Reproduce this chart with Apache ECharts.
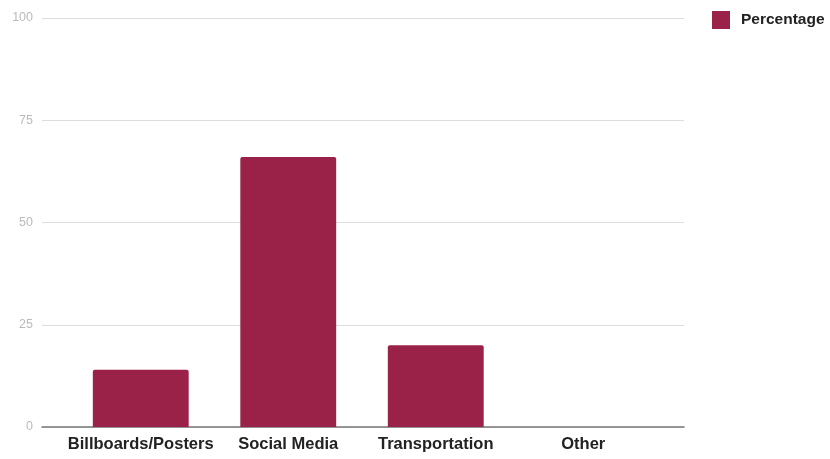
<!DOCTYPE html>
<html>
<head>
<meta charset="utf-8">
<script src="https://cdn.jsdelivr.net/npm/echarts@6/dist/echarts.min.js"></script>
<style>
  html, body { margin: 0; padding: 0; background: #fff; }
</style>
</head>
<body>
<div id="chart" style="width: 830px; height: 459px"></div>
<script>
const categories = ["Billboards/Posters", "Social Media", "Transportation", "Other"];
const percentage = [14, 66, 20, 0];
const yTicks = [0, 25, 50, 75, 100];

const chart = echarts.init(document.getElementById("chart"));

const yMin = yTicks[0];
const yMax = yTicks[yTicks.length - 1];

// grid 0: gridlines + baseline, grid 1: the bars (a bit narrower)
const option = {
  animation: false,
  legend: {
    data: ["Percentage"],
    left: 707,
    top: 6,
    itemWidth: 18,
    itemHeight: 18,
    icon: "rect",
    textStyle: {
      fontFamily: "Liberation Sans",
      fontWeight: "bold",
      fontSize: 15.5,
      color: "#222",
      padding: [0, 0, 0, 6],
    },
  },
  grid: [
    { left: 42, right: 146, top: 18, bottom: 32 },
    { left: 67, right: 173, top: 18, bottom: 32 },
  ],
  xAxis: [
    {
      type: "category",
      gridIndex: 0,
      data: categories,
      axisLine: { lineStyle: { color: "#777", width: 1.5 } },
      axisTick: { show: false },
      axisLabel: { show: false },
    },
    {
      type: "category",
      gridIndex: 1,
      data: categories,
      axisLine: { show: false },
      axisTick: { show: false },
      axisLabel: {
        interval: 0,
        fontFamily: "Liberation Sans",
        fontWeight: "bold",
        fontSize: 16.5,
        color: "#222",
        margin: 9,
      },
    },
  ],
  yAxis: [
    {
      type: "value",
      gridIndex: 0,
      min: yMin,
      max: yMax,
      interval: 25,
      axisLine: { show: false },
      axisTick: { show: false },
      axisLabel: {
        fontFamily: "Liberation Sans",
        fontSize: 12.5,
        color: "#bbb",
        margin: 9,
      },
      splitLine: { lineStyle: { color: "#ddd", width: 1 } },
    },
    {
      type: "value",
      gridIndex: 1,
      min: yMin,
      max: yMax,
      interval: 25,
      show: false,
    },
  ],
  series: [
    {
      name: "Percentage",
      type: "bar",
      xAxisIndex: 1,
      yAxisIndex: 1,
      data: percentage,
      barWidth: "65%",
      itemStyle: { color: "#9a2248", borderRadius: [2, 2, 0, 0] },
    },
  ],
};

chart.setOption(option);
</script>
</body>
</html>
